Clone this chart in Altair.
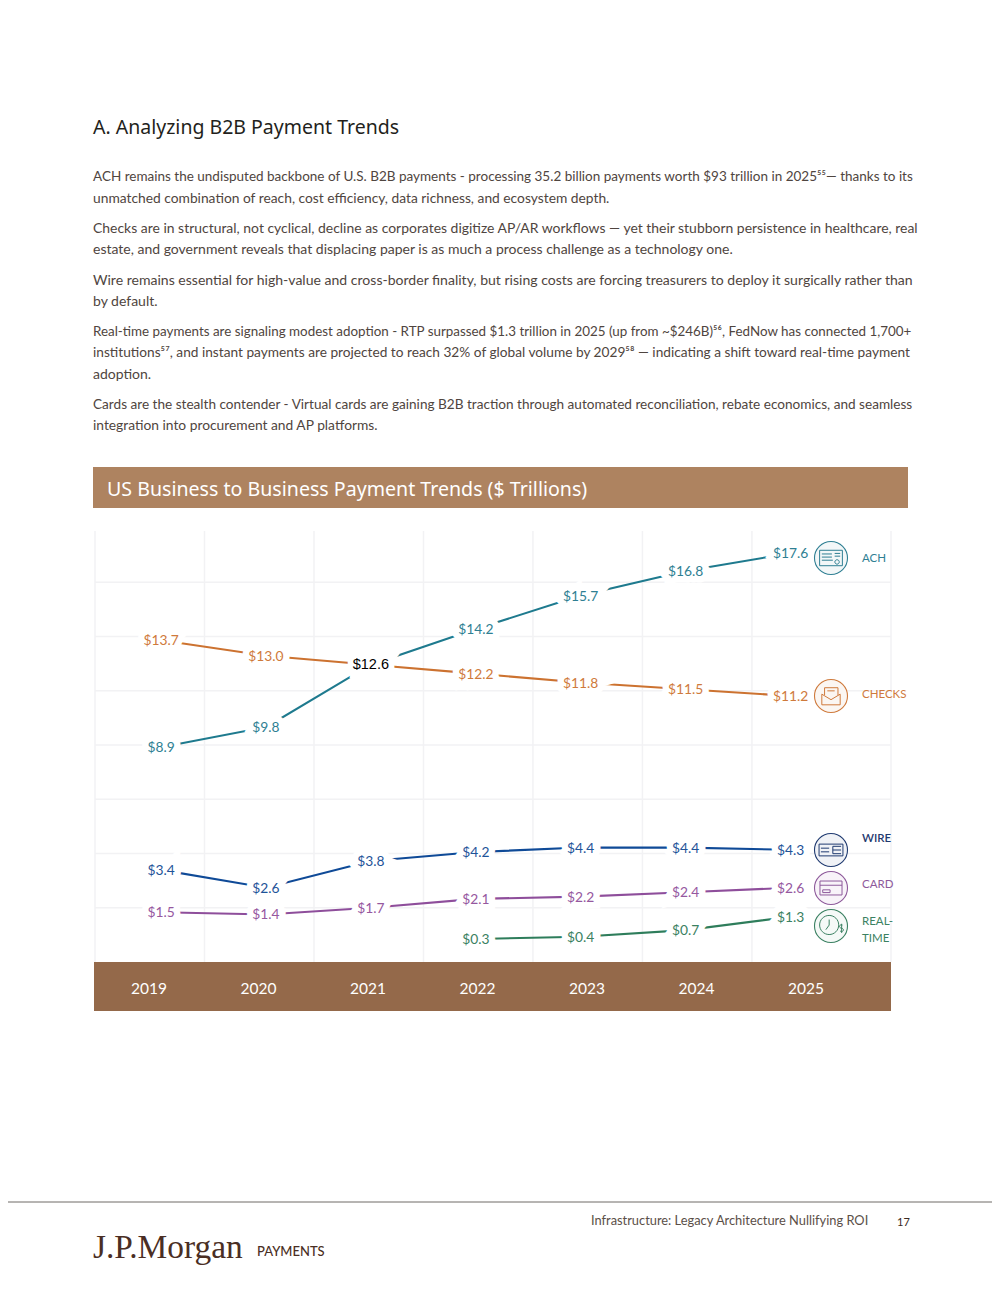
import altair as alt
import pandas as pd

W, H = 984, 1277
OFF = 8
BODY = "Lato"

years = [2019, 2020, 2021, 2022, 2023, 2024, 2025]
series = ["ACH", "CHECKS", "WIRE", "CARD", "REAL-TIME"]
ach = [8.9, 9.8, 12.6, 14.2, 15.7, 16.8, 17.6]
checks = [13.7, 13.0, 12.6, 12.2, 11.8, 11.5, 11.2]
wire = [3.4, 2.6, 3.8, 4.2, 4.4, 4.4, 4.3]
card = [1.5, 1.4, 1.7, 2.1, 2.2, 2.4, 2.6]
realtime = [None, None, None, 0.3, 0.4, 0.7, 1.3]
line_colors = ["#1E7A8E", "#CC7230", "#0F4A97", "#8E4E9B", "#2E7D5B"]
label_colors = ["#2F7F93", "#CF7A3C", "#1F5499", "#96589F", "#3B8162"]

heading = "A. Analyzing B2B Payment Trends"
body_lines = [
    (177, 13.5, "ACH remains the undisputed backbone of U.S. B2B payments - processing 35.2 billion payments worth $93 trillion in 2025⁵⁵— thanks to its"),
    (199, 13.8, "unmatched combination of reach, cost efficiency, data richness, and ecosystem depth."),
    (229, 13.95, "Checks are in structural, not cyclical, decline as corporates digitize AP/AR workflows — yet their stubborn persistence in healthcare, real"),
    (250, 14.0, "estate, and government reveals that displacing paper is as much a process challenge as a technology one."),
    (281, 14.05, "Wire remains essential for high-value and cross-border finality, but rising costs are forcing treasurers to deploy it surgically rather than"),
    (302, 14.0, "by default."),
    (332, 13.4, "Real-time payments are signaling modest adoption - RTP surpassed $1.3 trillion in 2025 (up from ~$246B)⁵⁶, FedNow has connected 1,700+"),
    (353, 13.7, "institutions⁵⁷, and instant payments are projected to reach 32% of global volume by 2029⁵⁸ — indicating a shift toward real-time payment"),
    (375, 14.0, "adoption."),
    (405, 13.6, "Cards are the stealth contender - Virtual cards are gaining B2B traction through automated reconciliation, rebate economics, and seamless"),
    (426, 13.8, "integration into procurement and AP platforms."),
]
chart_title = "US Business to Business Payment Trends ($ Trillions)"
grid_h = [1, 2, 3, 4, 5, 6, 7]
grid_v = [0, 1, 2, 3, 4, 5, 6, 7.27]
legend_labels = [
    (559, "ACH", "#2F7F93", 400), (695, "CHECKS", "#CF7A3C", 400), (839, "WIRE", "#1F3A70", 600),
    (885, "CARD", "#8E5A9B", 400), (922, "REAL-", "#3B8162", 400), (939, "TIME", "#3B8162", 400),
]
icon_rows = [
    ("ACH", 558, "#2F7F93", "#F3F7F8", "M-.62,-.42H.62V.42H-.62Z M-.5,-.22H.05 M-.5,-.05H.05 M-.5,.12H.1 M.2,-.25H.5 M.2,-.1H.5 M.45,.22A.12,.12 0 1 1 .45,.21"),
    ("CHECKS", 696, "#CF7A3C", "#FBF6F2", "M-.5,-.1L0,.2L.5,-.1V.48H-.5Z M-.35,-.05V-.45H.38V-.05 M-.2,-.28H.2"),
    ("WIRE", 850, "#1F3A70", "#F0F2F6", "M-.65,-.32H.65V.32H-.65Z M-.55,-.1H-.1 M-.55,.1H-.1 M.1,-.2V.2 M.1,-.2H.55 M.1,0H.55 M.1,.2H.55"),
    ("CARD", 888, "#8E5A9B", "#F8F3F9", "M-.6,-.38H.6V.38H-.6Z M-.6,-.15H.6 M-.45,.1H-.05V.25H-.45Z"),
    ("REAL-TIME", 926, "#3B8162", "#F5F9F7", "M.42,-.05A.52,.52 0 1 1 .42,-.06 M-.1,-.35V-.05L-.28,.2 M.62,-.05C.42,-.12 .42,.12 .58,.12C.72,.14 .72,.35 .5,.28 M.58,-.12V.38"),
]
footer_center = "Infrastructure: Legacy Architecture Nullifying ROI"
page_no = "17"
logo = "J.P.Morgan"
logo_sub = "PAYMENTS"

PX = alt.Scale(domain=[0, W], range=[0, W])
PY = alt.Scale(domain=[0, H], range=[0, H])


def page_text(rows, **mark):
    df = pd.DataFrame(rows, columns=["x", "y", "t"])
    df["x"] -= OFF
    df["y"] -= OFF
    return alt.Chart(df).mark_text(align="left", baseline="middle", **mark).encode(
        x=alt.X("x:Q", scale=PX, axis=None),
        y=alt.Y("y:Q", scale=PY, axis=None),
        text="t:N",
    )


def page_rect(x0, x1, y0, y1, color):
    df = pd.DataFrame({"x": [x0 - OFF], "x2": [x1 - OFF], "y": [y0 - OFF], "y2": [y1 - OFF]})
    return alt.Chart(df).mark_rect(color=color).encode(
        x=alt.X("x:Q", scale=PX, axis=None), x2="x2:Q",
        y=alt.Y("y:Q", scale=PY, axis=None), y2="y2:Q",
    )


# data scales: year -> pixel, value -> pixel
XS = alt.Scale(domain=[2019, 2025], range=[161 - OFF, 790.5 - OFF])
YS = alt.Scale(domain=[0, 17.6], range=[945.7 - OFF, 553.2 - OFF])
COL = alt.Scale(domain=series, range=line_colors)
LCOL = alt.Scale(domain=series + ["mid"], range=label_colors + ["#000000"])

rows = []
for name, vals in zip(series, [ach, checks, wire, card, realtime]):
    for yr, v in zip(years, vals):
        if v is not None:
            rows.append({"year": yr, "value": v, "series": name, "label": f"${v:.1f}"})
data = pd.DataFrame(rows)
labels = data[~((data.series == "ACH") & (data.year == 2021))]
plain = labels[~((labels.series == "CHECKS") & (labels.year == 2021))]
mid = labels[(labels.series == "CHECKS") & (labels.year == 2021)]

enc = dict(
    x=alt.X("year:Q", scale=XS, axis=None),
    y=alt.Y("value:Q", scale=YS, axis=None),
)

# gridlines on a scale of their own
gx = alt.Chart(pd.DataFrame({"c": grid_v})).mark_rule(color="#F2F2F4", strokeWidth=1.5).encode(
    x=alt.X("c:Q", scale=alt.Scale(domain=[0, 7.27], range=[95 - OFF, 891 - OFF]), axis=None),
    y=alt.value(531 - OFF), y2=alt.value(962 - OFF),
)
gy = alt.Chart(pd.DataFrame({"c": grid_h})).mark_rule(color="#F2F2F4", strokeWidth=1.5).encode(
    y=alt.Y("c:Q", scale=alt.Scale(domain=[0, 8], range=[962 - OFF, 528 - OFF]), axis=None),
    x=alt.value(95 - OFF), x2=alt.value(891 - OFF),
)

lines = alt.Chart(data).mark_line(strokeWidth=2.1).encode(
    color=alt.Color("series:N", scale=COL, legend=None), **enc
)
halo = alt.Chart(labels).mark_text(fontSize=13.8, font=BODY, stroke="white", strokeWidth=13, fill="white", dy=1).encode(
    text="label:N", **enc
)
val_text = alt.Chart(plain).mark_text(fontSize=13.8, font=BODY, dy=1).encode(
    text="label:N", color=alt.Color("series:N", scale=LCOL, legend=None), **enc
)
mid_text = alt.Chart(mid).mark_text(fontSize=14.5, font="Liberation Sans", color="#000000").encode(
    text="label:N", **enc
)

# year band
year_df = pd.DataFrame({"i": years, "t": [str(y) for y in years]})
year_text = alt.Chart(year_df).mark_text(fontSize=15.5, font=BODY, color="white").encode(
    x=alt.X("i:Q", scale=alt.Scale(domain=[2019, 2025], range=[149 - OFF, 806 - OFF]), axis=None),
    y=alt.value(989 - OFF),
    text="t:N",
)

# icons
icon_layers = []
for name, yy, col, fill, path in icon_rows:
    d = pd.DataFrame({"x": [831 - OFF], "y": [yy - OFF]})
    e = dict(x=alt.X("x:Q", scale=PX, axis=None), y=alt.Y("y:Q", scale=PY, axis=None))
    icon_layers.append(alt.Chart(d).mark_point(shape="circle", size=1090, filled=False, stroke=col, strokeWidth=1.1, fill=fill, fillOpacity=1, opacity=1).encode(**e))
    icon_layers.append(alt.Chart(d).mark_point(shape=path, size=1350, filled=False, stroke=col, strokeWidth=1, opacity=1).encode(**e))

foot_rule = alt.Chart(pd.DataFrame({"y": [1202 - OFF]})).mark_rule(color="#6E6A66", strokeWidth=1).encode(
    y=alt.Y("y:Q", scale=PY, axis=None), x=alt.value(0), x2=alt.value(W)
)

chart = alt.layer(
    page_text([(93, 128, heading)], fontSize=19.5, font="Noto Sans", color="#231F1C"),
    *[page_text([(93, y, t)], fontSize=s, font=BODY, color="#4F4540") for y, s, t in body_lines],
    page_rect(93, 908, 467, 508, "#AE8360"),
    page_text([(107, 490, chart_title)], fontSize=19.6, font="Noto Sans", color="white"),
    gx, gy, lines, halo, val_text, mid_text,
    page_rect(94, 891, 962, 1011, "#94694A"),
    year_text,
    *icon_layers,
    *[page_text([(862, y, t)], fontSize=11.5, font=BODY, color=c, fontWeight=w) for y, t, c, w in legend_labels],
    foot_rule,
    page_text([(591, 1221, footer_center)], fontSize=12.85, font=BODY, color="#5B4F48"),
    page_text([(897, 1223, page_no)], fontSize=11, font=BODY, color="#3B2A22"),
    page_text([(93, 1248, logo)], fontSize=33.4, font="Liberation Serif", color="#4A2E24"),
    page_text([(257, 1252, logo_sub)], fontSize=13, font=BODY, fontWeight=500, color="#4A2E24"),
).resolve_scale(x="independent", y="independent", color="independent").properties(
    width=W, height=H, padding=0, autosize=alt.AutoSizeParams(type="none")
).configure_view(stroke=None)

chart.save("out.html", embed_options={"renderer": "svg", "actions": False})
